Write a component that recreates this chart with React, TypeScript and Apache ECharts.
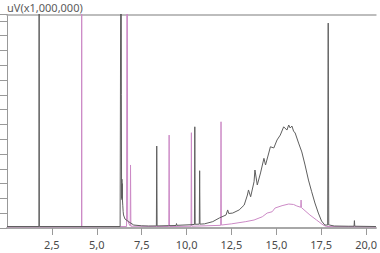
import React, { useEffect, useRef } from "react";
import * as echarts from "echarts";

// Retention time (min) and signal (uV x 1,000,000)
const blackTime = [
  0, 1.78, 1.79, 1.8, 6.3, 6.36, 6.37, 6.38, 6.39, 6.4, 6.41, 6.42, 6.43, 6.45, 6.47, 6.49, 6.57, 6.77, 7.06, 7.5, 7.89,
  8.32, 8.34, 8.36, 9.0, 9.42, 9.44, 9.46, 10.2, 10.44, 10.46, 10.48, 10.71, 10.73, 10.75, 11.0, 11.46, 11.83, 12.2, 12.29,
  12.35, 12.57, 12.93, 13.21, 13.39, 13.45, 13.57, 13.76, 13.81, 13.94, 14.12, 14.31, 14.4, 14.58, 14.67, 14.86, 15.04,
  15.22, 15.41, 15.59, 15.69, 15.77, 15.87, 15.96, 16.05, 16.24, 16.42, 16.6, 16.79, 16.97, 17.15, 17.34, 17.52, 17.7,
  17.86, 17.89, 17.92, 17.96, 18.23, 19.0, 19.33, 19.35, 19.37, 20.55,
];
const blackValue = [
  0.01, 0.01, 3.0, 0.01, 0.01, 3.0, 0.9, 0.3, 0.2, 0.33, 0.19, 0.3, 0.19, 0.15, 0.11, 0.088, 0.061, 0.043, 0.02, 0.015, 0.0135,
  0.014, 0.554, 0.014, 0.016, 0.017, 0.03, 0.018, 0.022, 0.024, 0.684, 0.025, 0.026, 0.387, 0.026, 0.028, 0.043, 0.068, 0.088, 0.122,
  0.098, 0.101, 0.122, 0.155, 0.223, 0.257, 0.211, 0.313, 0.392, 0.291, 0.372, 0.471, 0.426, 0.507, 0.549, 0.541, 0.595,
  0.628, 0.684, 0.662, 0.696, 0.676, 0.689, 0.655, 0.642, 0.574, 0.514, 0.426, 0.324, 0.245, 0.169, 0.101, 0.047, 0.02,
  0.02, 1.385, 0.02, 0.02, 0.0135, 0.012, 0.012, 0.05, 0.012, 0.01,
];

const pinkTime = [
  0, 4.15, 4.16, 4.17, 6.66, 6.69, 6.72, 6.78, 6.86, 6.88, 6.9, 9.01, 9.03, 9.05, 10.25, 10.27, 10.29, 11.9, 11.92, 11.94,
  12.5, 13.3, 13.76, 14.22, 14.49, 14.77, 14.93, 15.32, 15.69, 15.96, 16.14, 16.36, 16.38, 16.4, 16.42, 16.87, 17.24, 17.61,
  17.8, 20.55,
];
const pinkValue = [
  0.008, 0.008, 3.0, 0.008, 0.01, 3.0, 0.06, 0.03, 0.015, 0.426, 0.012, 0.01, 0.628, 0.01, 0.012, 0.644, 0.012, 0.018, 0.718, 0.02,
  0.028, 0.043, 0.054, 0.076, 0.101, 0.11, 0.135, 0.151, 0.162, 0.159, 0.149, 0.14, 0.189, 0.138, 0.135, 0.088, 0.054, 0.02,
  0.01, 0.008,
];

const xTickStep = 2.5;
const yTickStep = 0.1;
const yAxisTitle = "uV(x1,000,000)";

export default function App() {
  const ref = useRef<HTMLDivElement>(null);
  useEffect(() => {
    if (!ref.current) return;
    const chart = echarts.init(ref.current, null, { renderer: "svg" });
    const zip = (t: number[], v: number[]) => t.map((x, i) => [x, v[i]]);
    chart.setOption({
      animation: false,
      backgroundColor: "#ffffff",
      grid: { left: 7, right: 0, top: 14.5, bottom: 25 },
      graphic: [
        {
          type: "text",
          left: 7,
          top: 2,
          style: { text: yAxisTitle, fill: "#5a5a5a", font: "11px 'Noto Sans', sans-serif" },
        },
      ],
      xAxis: [
        {
          type: "value",
          min: 0,
          max: 20.55,
          interval: xTickStep,
          axisLine: { lineStyle: { color: "#a8a8a8", width: 2 } },
          axisTick: { length: 7, lineStyle: { color: "#999" } },
          axisLabel: {
            showMinLabel: false,
            showMaxLabel: false,
            margin: 11,
            color: "#4a4a4a",
            fontSize: 11,
            fontFamily: "'Noto Sans', sans-serif",
            formatter: (v: number) => v.toFixed(1).replace(".", ","),
          },
          splitLine: { show: false },
        },
        {
          type: "value",
          position: "top",
          min: 0,
          max: 20.55,
          axisLine: { show: true, lineStyle: { color: "#a8a8a8", width: 1.5 } },
          axisTick: { show: false },
          axisLabel: { show: false },
          splitLine: { show: false },
        },
      ],
      yAxis: {
        type: "value",
        min: 0,
        max: 1.443,
        interval: yTickStep,
        axisLine: { show: true, lineStyle: { color: "#999" } },
        axisTick: { show: true, length: 7, lineStyle: { color: "#999" } },
        axisLabel: { show: false },
        splitLine: { show: false },
      },
      series: [
        {
          type: "line",
          data: zip(pinkTime, pinkValue),
          showSymbol: false,
          symbol: "none",
          lineStyle: { color: "#cc8ac6", width: 1 },
          clip: true,
        },
        {
          type: "line",
          data: zip(blackTime, blackValue),
          showSymbol: false,
          symbol: "none",
          lineStyle: { color: "#5e5e5e", width: 1 },
          clip: true,
        },
      ],
    });
    return () => chart.dispose();
  }, []);
  return <div ref={ref} style={{ position: "fixed", left: 0, top: 0, width: 380, height: 253 }} />;
}
